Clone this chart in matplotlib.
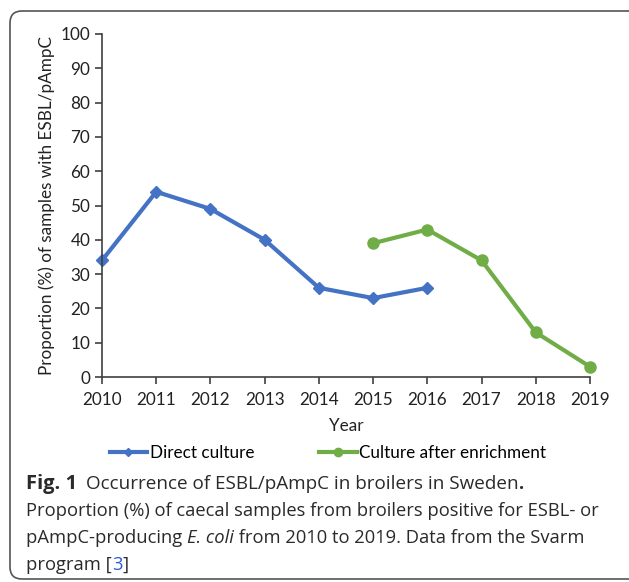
import matplotlib
matplotlib.use("Agg")
import matplotlib.pyplot as plt
from matplotlib.patches import FancyBboxPatch

years = [2010, 2011, 2012, 2013, 2014, 2015, 2016, 2017, 2018, 2019]
direct_years = [2010, 2011, 2012, 2013, 2014, 2015, 2016]
direct_vals = [34, 54, 49, 40, 26, 23, 26]
enrich_years = [2015, 2016, 2017, 2018, 2019]
enrich_vals = [39, 43, 34, 13, 3]
yticks = [0, 10, 20, 30, 40, 50, 60, 70, 80, 90, 100]

BLUE = "#4472C4"
GREEN = "#70AD47"
CHART_FONT = "Lato"
CAP_FONT = "Open Sans"
FS = 12.3

fig = plt.figure(figsize=(6.29, 5.82), dpi=100)
W, H = 629, 582

def fx(px):
    return px / W

def fy(py):
    return 1 - py / H

ax = fig.add_axes([fx(102), fy(377), fx(590) - fx(102), fy(34) - fy(377)])
ax.plot(direct_years, direct_vals, color=BLUE, lw=3, marker="D", ms=6,
        label="Direct culture", clip_on=False)
ax.plot(enrich_years, enrich_vals, color=GREEN, lw=3, marker="o", ms=8,
        label="Culture after enrichment", clip_on=False)
ax.set_xlim(2010, 2019)
ax.set_ylim(0, 100)
ax.set_xticks(years)
ax.set_yticks(yticks)
for s in ["top", "right"]:
    ax.spines[s].set_visible(False)
for s in ["left", "bottom"]:
    ax.spines[s].set_color("#404040")
    ax.spines[s].set_linewidth(1.2)
ax.tick_params(axis="both", direction="out", length=5, width=1.2, color="#404040",
               labelsize=FS, labelcolor="#222222")
ax.tick_params(axis="x", pad=6)
for lab in ax.get_xticklabels() + ax.get_yticklabels():
    lab.set_fontfamily(CHART_FONT)
ax.set_xlabel("Year", fontsize=FS, family=CHART_FONT, color="#222222", labelpad=7)
ax.set_ylabel("Proportion (%) of samples with ESBL/pAmpC", fontsize=FS,
              family=CHART_FONT, color="#222222", labelpad=4)

leg = fig.legend(handles=ax.get_lines(), loc="center", bbox_to_anchor=(fx(328), fy(453)),
                 ncol=2, frameon=False, handlelength=2.2, handletextpad=0.15,
                 columnspacing=3.8, markerscale=0.75,
                 prop={"family": CHART_FONT, "size": FS})

# border
box = FancyBboxPatch((0.10, 0.03), 6.40, 5.68, boxstyle="round,pad=0,rounding_size=0.12",
                     transform=fig.dpi_scale_trans, fill=False, ec="#555555", lw=1.2,
                     clip_on=False)
fig.patches.append(box)

# caption
renderer = fig.canvas.get_renderer()

def draw_line(pieces, x_px, y_px, size=13.2):
    x = fx(x_px)
    for txt, kw in pieces:
        t = fig.text(x, fy(y_px), txt, fontsize=kw.get("size", size), family=CAP_FONT,
                     va="baseline", ha="left", color=kw.get("color", "#2a2a2a"),
                     fontweight=kw.get("weight", "normal"), fontstyle=kw.get("style", "normal"))
        bb = t.get_window_extent(renderer=renderer)
        x = fig.transFigure.inverted().transform((bb.x1, bb.y0))[0] + kw.get("gap", 0) / W

draw_line([("Fig. 1", {"weight": "bold", "size": 14.5, "gap": 9}),
           ("Occurrence of ESBL/pAmpC in broilers in Sweden", {"size": 13.6}),
           (".", {"weight": "bold"})], 26, 489)
draw_line([("Proportion (%) of caecal samples from broilers positive for ESBL- or", {})], 26, 516)
draw_line([("pAmpC-producing ", {}), ("E. coli", {"style": "italic"}),
           (" from 2010 to 2019. Data from the Svarm", {})], 26, 543)
draw_line([("program [", {}), ("3", {"color": "#2a5bd7"}), ("]", {})], 26, 570)

fig.savefig("out.png", dpi=100)
